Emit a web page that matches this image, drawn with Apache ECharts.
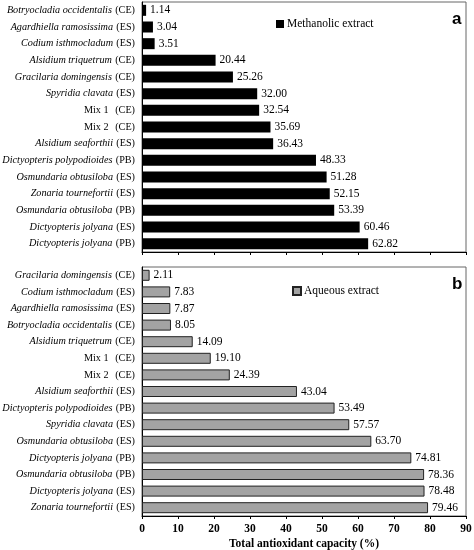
<!DOCTYPE html>
<html><head><meta charset="utf-8">
<script src="https://cdn.jsdelivr.net/npm/echarts@6/dist/echarts.min.js"></script>
<style>html,body{margin:0;padding:0;background:#fff}#c{width:474px;height:550px}</style>
</head><body><div id="c"></div>
<script>
// Panel a: methanolic extract (top to bottom)
var namesA = ['Botryocladia occidentalis','Agardhiella ramosissima','Codium isthmocladum','Alsidium triquetrum','Gracilaria domingensis','Spyridia clavata','Mix 1','Mix 2','Alsidium seaforthii','Dictyopteris polypodioides','Osmundaria obtusiloba','Zonaria tournefortii','Osmundaria obtusiloba','Dictyopteris jolyana','Dictyopteris jolyana'];
var codesA = ['CE','ES','ES','CE','CE','ES','CE','CE','ES','PB','ES','ES','PB','ES','PB'];
var valuesA = [1.14,3.04,3.51,20.44,25.26,32.00,32.54,35.69,36.43,48.33,51.28,52.15,53.39,60.46,62.82];
// Panel b: aqueous extract (top to bottom)
var namesB = ['Gracilaria domingensis','Codium isthmocladum','Agardhiella ramosissima','Botryocladia occidentalis','Alsidium triquetrum','Mix 1','Mix 2','Alsidium seaforthii','Dictyopteris polypodioides','Spyridia clavata','Osmundaria obtusiloba','Dictyopteris jolyana','Osmundaria obtusiloba','Dictyopteris jolyana','Zonaria tournefortii'];
var codesB = ['CE','ES','ES','CE','CE','CE','CE','ES','PB','ES','ES','PB','PB','ES','ES'];
var valuesB = [2.11,7.83,7.87,8.05,14.09,19.10,24.39,43.04,53.49,57.57,63.70,74.81,78.36,78.48,79.46];
var xTicks = [0,10,20,30,40,50,60,70,80,90];
var xTitle = 'Total antioxidant capacity (%)';

var serif = '"Liberation Serif", "DejaVu Serif", serif';
function cats(names, codes){ return names.map(function(n,i){ return n + '|' + codes[i]; }); }
function fmtCat(v){
  var p = v.split('|');
  var nm = p[0];
  if (/^Mix/.test(nm)) return '{n|' + nm + '}  {n|(' + p[1] + ')}';
  return '{i|' + nm + '} {n|(' + p[1] + ')}';
}
var rich = {
  i: {fontFamily: serif, fontStyle: 'italic', fontSize: 10.2, color: '#000'},
  n: {fontFamily: serif, fontSize: 10.2, color: '#000'}
};
function yAx(gi, names, codes){
  return {type:'category', gridIndex:gi, inverse:true, data:cats(names,codes),
    axisLine:{show:true, lineStyle:{color:'#000', width:1}}, axisTick:{show:false},
    axisLabel:{formatter:fmtCat, rich:rich, margin:7}};
}
function xAx(gi, showLabels){
  var o = {type:'value', gridIndex:gi, min:0, max:90, interval:10,
    splitLine:{show:false},
    axisLine:{show:true, onZero:false, lineStyle:{color:'#000', width:1}},
    axisTick:{show:true, length:3, inside:false, lineStyle:{color:'#000'}},
    axisLabel:{show:showLabels, fontFamily:serif, fontWeight:'bold', fontSize:11.5, color:'#000', margin:7,
      formatter:function(v){ return xTicks.indexOf(v) >= 0 ? String(v) : ''; }}};
  if (showLabels){
    o.name = xTitle; o.nameLocation = 'middle'; o.nameGap = 22;
    o.nameTextStyle = {fontFamily:serif, fontWeight:'bold', fontSize:11.5, color:'#000'};
  }
  return o;
}
var labelStyle = {show:true, position:'right', distance:4, fontFamily:serif, fontSize:11.5, color:'#000',
  formatter:function(p){ return p.value.toFixed(2); }};

var chart = echarts.init(document.getElementById('c'), null, {renderer:'canvas'});
chart.setOption({
  animation:false,
  backgroundColor:'#fff',
  grid:[
    {left:142, top:2, width:324, height:250, containLabel:false, outerBoundsMode:'none', show:true, borderColor:'#666', borderWidth:1, backgroundColor:'transparent'},
    {left:142, top:267, width:324, height:249, containLabel:false, outerBoundsMode:'none', show:true, borderColor:'#666', borderWidth:1, backgroundColor:'transparent'}
  ],
  title:[
    {text:'a', left:447, top:6, textStyle:{fontFamily:'"Liberation Sans", Arial, sans-serif', fontWeight:'bold', fontSize:17, color:'#000'}},
    {text:'b', left:447, top:271, textStyle:{fontFamily:'"Liberation Sans", Arial, sans-serif', fontWeight:'bold', fontSize:17, color:'#000'}}
  ],
  legend:[
    {data:['Methanolic extract'], left:271, top:13, itemWidth:8, itemHeight:8, itemGap:4, icon:'rect',
      textStyle:{fontFamily:serif, fontSize:11.5, color:'#000', padding:[0,0,0,-2]}},
    {data:['Aqueous extract'], left:287, top:280, itemWidth:8, itemHeight:8, itemGap:4, icon:'rect',
      textStyle:{fontFamily:serif, fontSize:11.5, color:'#000', padding:[0,0,0,-2]}}
  ],
  xAxis:[xAx(0,false), xAx(1,true)],
  yAxis:[yAx(0,namesA,codesA), yAx(1,namesB,codesB)],
  series:[
    {name:'Methanolic extract', type:'bar', xAxisIndex:0, yAxisIndex:0, data:valuesA, barWidth:11,
      itemStyle:{color:'#000'}, label:labelStyle},
    {name:'Aqueous extract', type:'bar', xAxisIndex:1, yAxisIndex:1, data:valuesB, barWidth:11,
      itemStyle:{color:'#a3a3a3', borderColor:'#222', borderWidth:1}, label:labelStyle}
  ]
});
</script></body></html>
